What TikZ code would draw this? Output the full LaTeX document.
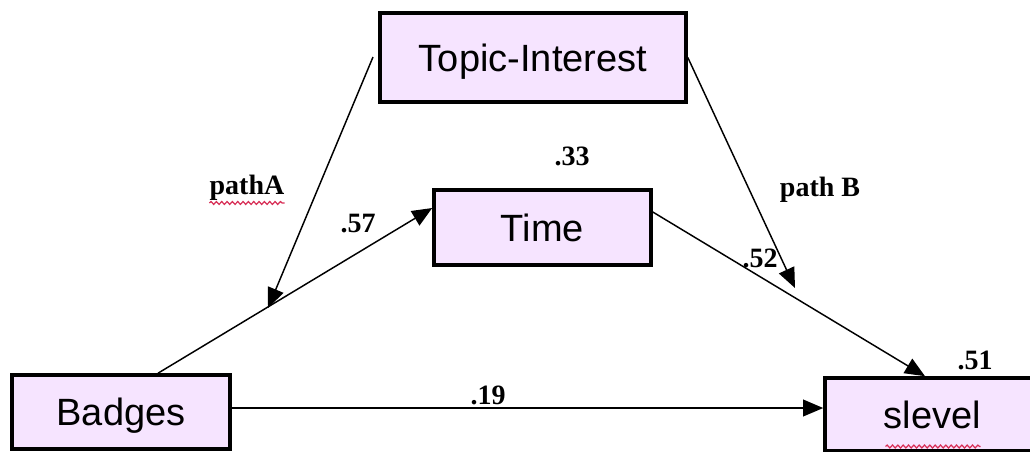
\documentclass[tikz,border=0pt]{standalone}
\usepackage{fontspec}
\setmainfont{Liberation Serif}
\newfontfamily\boxfont{Liberation Sans}
\usetikzlibrary{arrows.meta,decorations.pathmorphing}
\definecolor{boxfill}{RGB}{246,228,255}
\definecolor{spellred}{RGB}{215,45,85}

\begin{document}
\begin{tikzpicture}[x=0.75pt,y=-0.75pt,
  var/.style={draw=black,line width=2.7pt,fill=boxfill,inner sep=0pt,
    font=\boxfont\fontsize{28.5}{30}\selectfont,text height=20.5pt,text depth=0pt},
  coef/.style={font=\bfseries\fontsize{21}{23}\selectfont,inner sep=0pt},
  link/.style={line width=1.1pt,-{Triangle[length=15pt,width=12.5pt]}},
  squiggle/.style={spellred,line width=0.9pt,decorate,
    decoration={snake,amplitude=1.1pt,segment length=4pt}}]

\useasboundingbox (0,0) rectangle (1030,451);
\clip (0,0) rectangle (1030,451);

% variables
\node[var,minimum width=306*0.75pt,minimum height=89*0.75pt] (topic) at (533,57.5) {Topic-Interest};
\node[var,minimum width=217*0.75pt,minimum height=75*0.75pt] (time) at (542.5,227.5) {Time};
\node[var,minimum width=218*0.75pt,minimum height=74*0.75pt] (badges) at (121,412) {Badges};
\node[var,minimum width=215*0.75pt,minimum height=73*0.75pt] (slevel) at (932.5,414.5) {slevel};

% free ends of the moderator paths
\coordinate (aStart) at (373,57);
\coordinate (aEnd) at (268,308);
\coordinate (bEnd) at (795,288);

% paths
\draw[link] (aStart) -- (aEnd);
\draw[link] (topic.east) -- (bEnd);
\draw[link] ([xshift=37*0.75pt]badges.north) -- ([yshift=19.5*0.75pt]time.west);
\draw[link] ([yshift=15.5*0.75pt]time.east) -- ([xshift=-7.5*0.75pt]slevel.north);
\draw[link] ([yshift=3pt]badges.east) coordinate (hStart) -- (hStart -| slevel.west);

% coefficients and path names
\node[coef] (lblA) at (247,188) {pathA};
\node[coef] (lblB) at (820,190) {path B};
\node[coef] (c57) at (358,224) {.57};
\node[coef] (c33) at (572,156) {.33};
\node[coef] (c52) at (760,258) {.52};
\node[coef] (c19) at (488,395) {.19};
\node[coef] (c51) at (975,360) {.51};

% spell-check marks
\draw[squiggle] ([yshift=-1.5pt]lblA.south west) -- ([yshift=-1.5pt]lblA.south east);
\draw[squiggle] ([xshift=-47*0.75pt,yshift=-32*0.75pt]slevel.center) -- ++(95,0);
\end{tikzpicture}
\end{document}
